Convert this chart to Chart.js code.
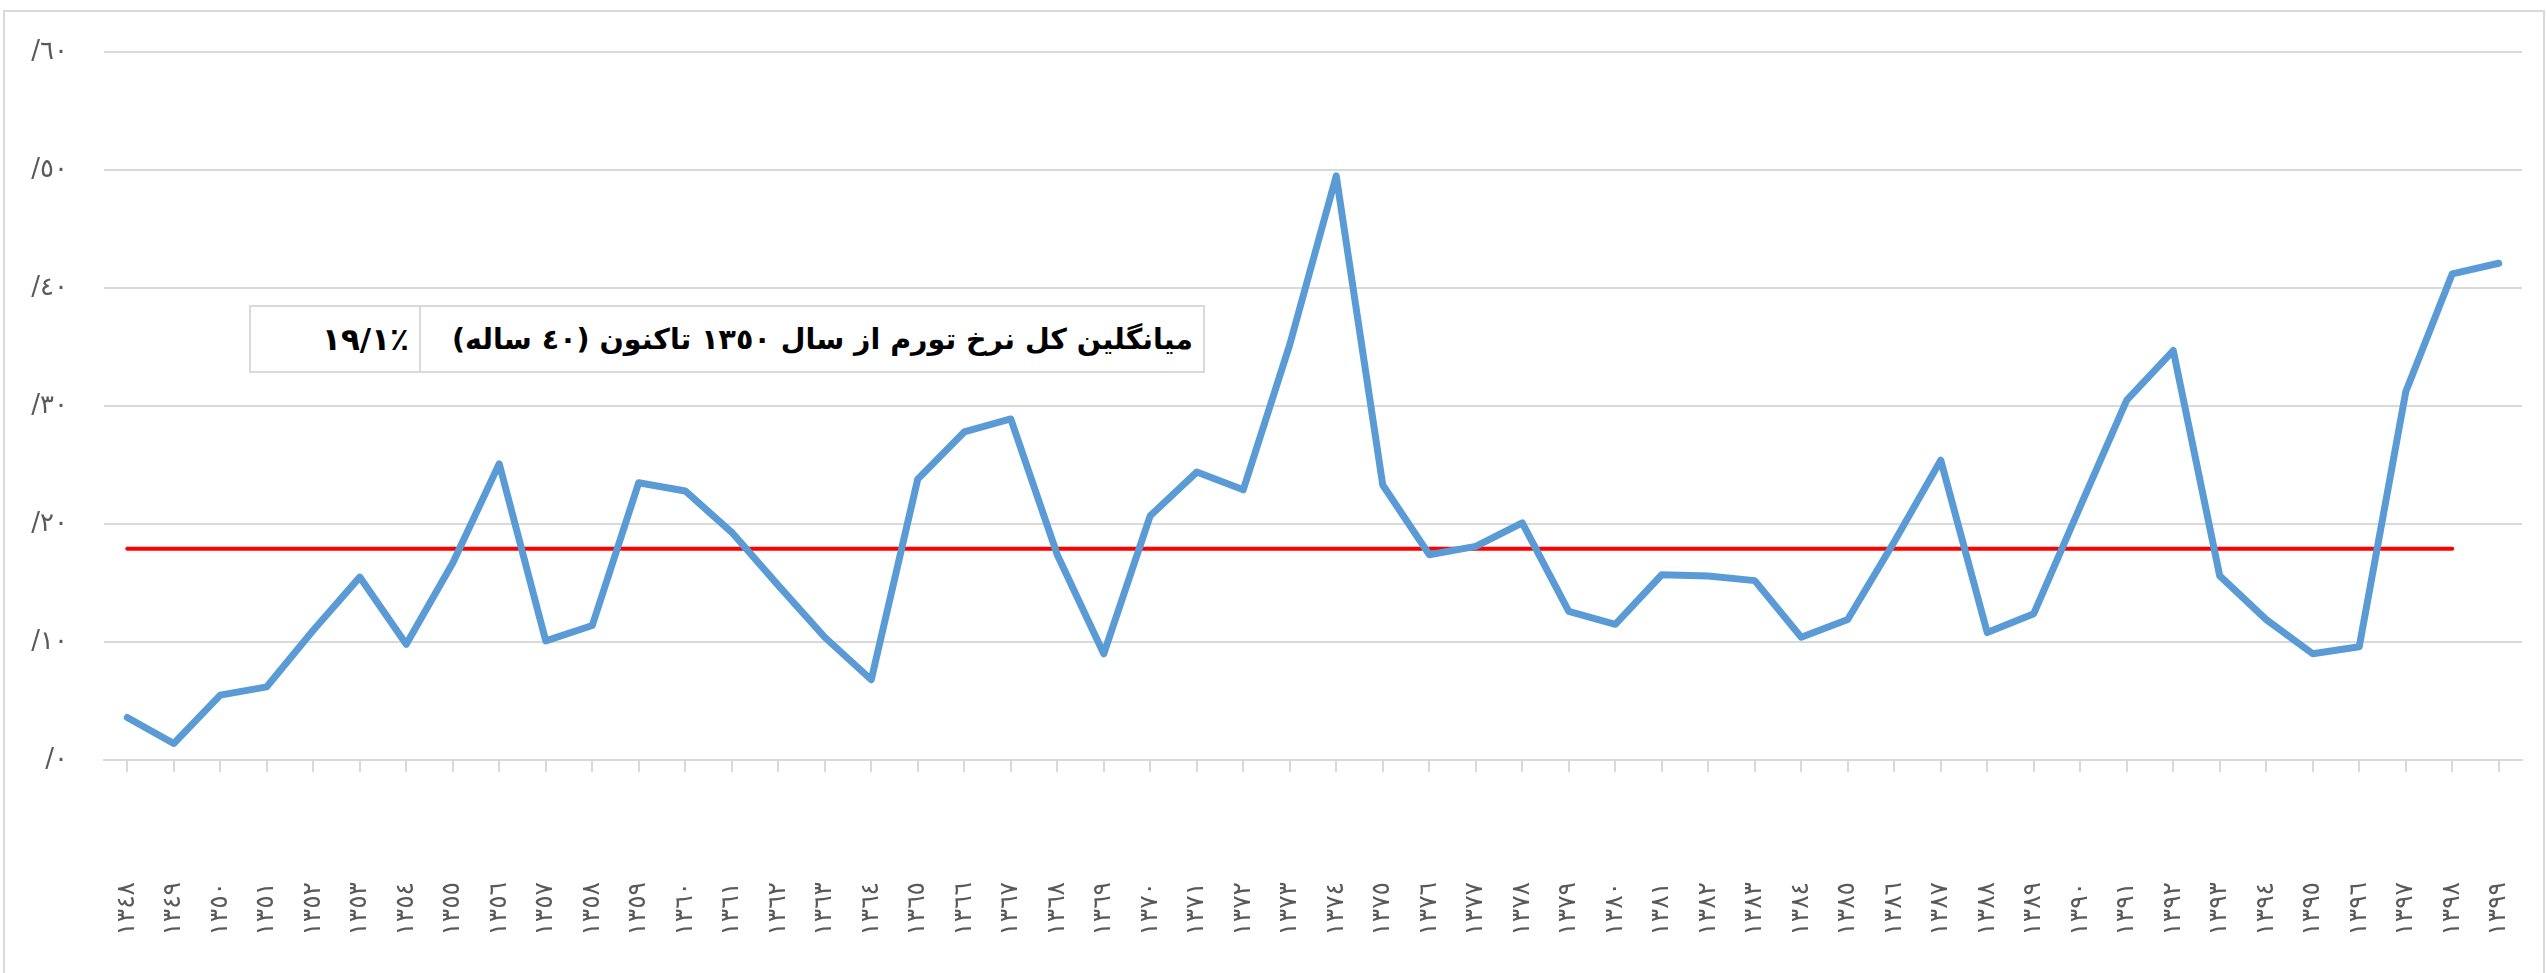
<!DOCTYPE html>
<html>
<head>
<meta charset="utf-8">
<script src="https://cdn.jsdelivr.net/npm/chart.js@4.4.1/dist/chart.umd.min.js"></script>
<style>
    html, body { margin: 0; padding: 0; background: #fff; }
    #wrap { position: relative; width: 2547px; height: 973px; overflow: hidden; }
    #frame { position: absolute; left: 3px; top: 10px; width: 2538px; height: 1000px; border: 2px solid #d9d9d9; }
    #avgBox { position: absolute; left: 249px; top: 305px; width: 956px; table-layout: fixed; border-collapse: collapse; font-family: "DejaVu Sans", sans-serif; font-weight: bold; color: #000; background: #fff; }
    #avgBox td { border: 2px solid #d9d9d9; height: 64px; padding: 0 10px; white-space: nowrap; overflow: hidden; }
</style>
</head>
<body>
<div id="wrap">
    <div id="frame"></div>
    <canvas id="inflation" width="2547" height="973"></canvas>
    <table id="avgBox">
        <tr>
            <td id="avgValue" dir="ltr" style="width:148px;text-align:right;font-size:31px;"></td>
            <td id="avgLabel" dir="rtl" style="text-align:right;font-size:28.5px;"></td>
        </tr>
    </table>
</div>
<script>
// years 1348 - 1399
const years = ['١٣٤٨', '١٣٤٩', '١٣٥٠', '١٣٥١', '١٣٥٢', '١٣٥٣', '١٣٥٤', '١٣٥٥', '١٣٥٦', '١٣٥٧',
    '١٣٥٨', '١٣٥٩', '١٣٦٠', '١٣٦١', '١٣٦٢', '١٣٦٣', '١٣٦٤', '١٣٦٥', '١٣٦٦', '١٣٦٧',
    '١٣٦٨', '١٣٦٩', '١٣٧٠', '١٣٧١', '١٣٧٢', '١٣٧٣', '١٣٧٤', '١٣٧٥', '١٣٧٦', '١٣٧٧',
    '١٣٧٨', '١٣٧٩', '١٣٨٠', '١٣٨١', '١٣٨٢', '١٣٨٣', '١٣٨٤', '١٣٨٥', '١٣٨٦', '١٣٨٧',
    '١٣٨٨', '١٣٨٩', '١٣٩٠', '١٣٩١', '١٣٩٢', '١٣٩٣', '١٣٩٤', '١٣٩٥', '١٣٩٦', '١٣٩٧',
    '١٣٩٨', '١٣٩٩'];
const inflation = [3.6, 1.4, 5.5, 6.2, 11.0, 15.5, 9.8, 16.7, 25.1, 10.1,
    11.4, 23.5, 22.8, 19.3, 14.8, 10.4, 6.8, 23.8, 27.8, 28.9,
    17.4, 9.0, 20.7, 24.4, 22.9, 35.2, 49.5, 23.3, 17.4, 18.1,
    20.1, 12.6, 11.5, 15.7, 15.6, 15.2, 10.4, 11.9, 18.5, 25.4,
    10.8, 12.4, 21.5, 30.5, 34.7, 15.6, 11.9, 9.0, 9.6, 31.2,
    41.2, 42.1];
// red average line, drawn 1348 - 1398
const averageLine = [17.9, 17.9, 17.9, 17.9, 17.9, 17.9, 17.9, 17.9, 17.9, 17.9,
    17.9, 17.9, 17.9, 17.9, 17.9, 17.9, 17.9, 17.9, 17.9, 17.9,
    17.9, 17.9, 17.9, 17.9, 17.9, 17.9, 17.9, 17.9, 17.9, 17.9,
    17.9, 17.9, 17.9, 17.9, 17.9, 17.9, 17.9, 17.9, 17.9, 17.9,
    17.9, 17.9, 17.9, 17.9, 17.9, 17.9, 17.9, 17.9, 17.9, 17.9,
    17.9, null];
const yTicks = [0, 10, 20, 30, 40, 50, 60];
const yTickLabels = ['/٠', '/١٠', '/٢٠', '/٣٠', '/٤٠', '/٥٠', '/٦٠'];
const avgLabel = 'میانگلین کل نرخ تورم از سال ١٣٥٠ تاکنون (٤٠ ساله)';
const avgValue = '١٩/١٪';

document.getElementById('avgLabel').textContent = avgLabel;
document.getElementById('avgValue').textContent = avgValue;

const gray = '#d9d9d9';
const ctx = document.getElementById('inflation');

const inflationChart = new Chart(ctx, {
    type: 'line',
    data: {
        labels: years,
        datasets: [{
            data: inflation,
            borderColor: '#5b9bd5',
            borderWidth: 7,
            borderJoinStyle: 'round',
            borderCapStyle: 'round',
            tension: 0,
            pointRadius: 0,
            order: 1
        }, {
            data: averageLine,
            borderColor: '#ff0000',
            borderWidth: 4,
            borderCapStyle: 'round',
            tension: 0,
            pointRadius: 0,
            order: 2
        }]
    },
    options: {
        responsive: false,
        animation: false,
        layout: { padding: { top: 52, right: 25, left: 0, bottom: 0 } },
        plugins: { legend: { display: false }, tooltip: { enabled: false } },
        scales: {
            x: {
                offset: true,
                grid: { drawOnChartArea: false, drawTicks: true, tickLength: 12, color: gray, lineWidth: 2 },
                border: { display: true, color: gray, width: 2 },
                ticks: {
                    autoSkip: false,
                    minRotation: 90,
                    maxRotation: 90,
                    padding: 110,
                    color: '#595959',
                    font: { family: 'DejaVu Sans', size: 25 }
                },
                afterFit: function (scale) {
                    // the big label padding must not shrink the plot sideways
                    scale.height = 213;
                    scale.paddingLeft = 0;
                    scale.paddingRight = 0;
                }
            },
            y: {
                min: 0,
                max: 60,
                afterBuildTicks: function (scale) {
                    scale.ticks = yTicks.map(v => ({ value: v }));
                },
                grid: { drawTicks: false, color: gray, lineWidth: 2 },
                border: { display: false },
                ticks: {
                    padding: 36,
                    color: '#595959',
                    font: { family: 'DejaVu Sans', size: 26 },
                    callback: function (value) {
                        return yTickLabels[yTicks.indexOf(value)];
                    }
                },
                afterFit: function (scale) { scale.width = 104; }
            }
        }
    }
});
</script>
</body>
</html>
